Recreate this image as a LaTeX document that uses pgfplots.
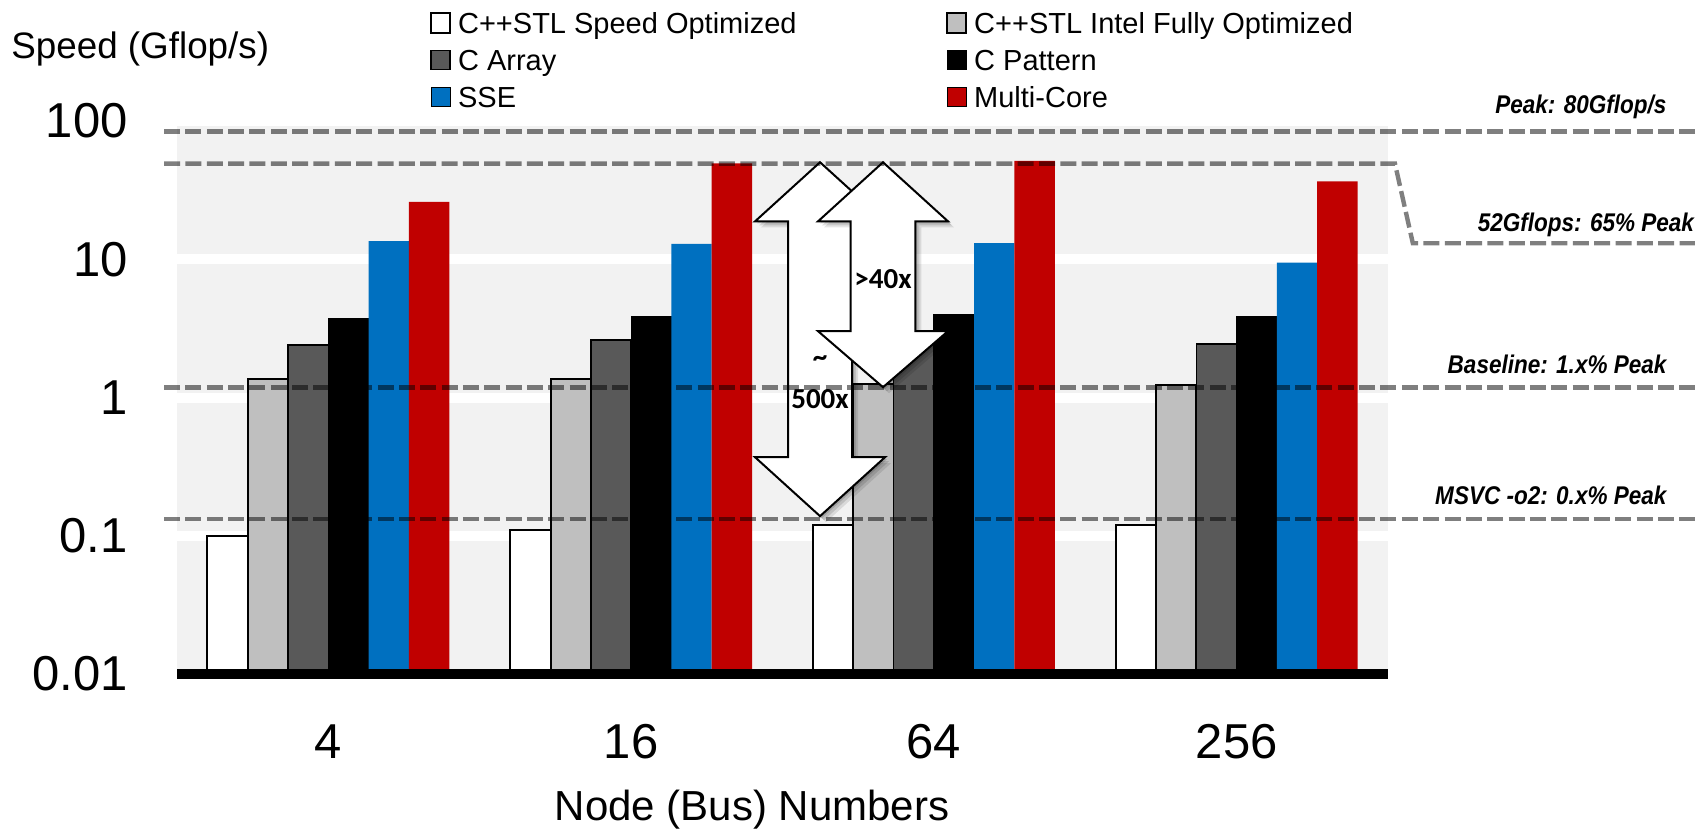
\documentclass[border=0pt]{standalone}
\usepackage{fontspec}
\setmainfont{Liberation Sans}
\newfontfamily\carlito{Carlito}
\newfontfamily\narrowsans[FakeStretch=0.88]{Liberation Sans}
\usepackage{pgfplots}
\pgfplotsset{compat=1.18}
\definecolor{bgG}{HTML}{F2F2F2}
\definecolor{lg}{HTML}{BFBFBF}
\definecolor{dg}{HTML}{595959}
\definecolor{sse}{HTML}{0070C0}
\definecolor{mc}{HTML}{C00000}
\tikzset{refline/.style={black, opacity=0.5, line width=2.2bp, dash pattern=on 8bp off 2.67bp},
  annot/.style={font=\narrowsans\bfseries\itshape\fontsize{12.8bp}{12.8bp}\selectfont, inner sep=0pt, anchor=east}}
\newcommand{\bigarrow}{(axis cs:1.624,50.3) -- (axis cs:1.8387,18.8) -- (axis cs:1.7297,18.8) -- (axis cs:1.7297,0.37)
  -- (axis cs:1.8387,0.37) -- (axis cs:1.624,0.1386) -- (axis cs:1.4093,0.37) -- (axis cs:1.5183,0.37)
  -- (axis cs:1.5183,18.8) -- (axis cs:1.4093,18.8) -- cycle}
\newcommand{\smallarrow}{(axis cs:1.832,50.3) -- (axis cs:2.0467,18.8) -- (axis cs:1.939,18.8) -- (axis cs:1.939,3.02)
  -- (axis cs:2.0467,3.02) -- (axis cs:1.832,1.187) -- (axis cs:1.6173,3.02) -- (axis cs:1.725,3.02)
  -- (axis cs:1.725,18.8) -- (axis cs:1.6173,18.8) -- cycle}
\begin{document}
\begin{tikzpicture}
\useasboundingbox (0,0) rectangle (847.5bp,416bp);
\begin{axis}[
  at={(88.5bp,79bp)}, anchor=south west,
  scale only axis, width=605.5bp, height=276.5bp,
  ymode=log, ymin=0.01, ymax=100, log origin y=infty,
  xmin=-0.5, xmax=3.5,
  xtick={0,1,2,3}, xticklabels={4,16,64,256},
  ytick={0.01,0.1,1,10,100}, yticklabels={{0.01},{0.1},{1},{10},{100}},
  /pgf/number format/assume math mode=true,
  ybar=0pt, bar width=20.15bp,
  axis line style={draw=none}, major tick length=0pt, minor tick length=0pt,
  axis background/.style={fill=bgG},
  ymajorgrids, major grid style={white, line width=5bp},
  clip=false,
  ticklabel style={font=\fontsize{24.5bp}{24.5bp}\selectfont},
  yticklabel style={anchor=east, inner sep=0pt, xshift=-24.5bp},
  xticklabel style={anchor=center, inner sep=0pt, yshift=-34bp},
  legend columns=2,
  legend cell align=left,
  legend image code/.code={\draw[#1] (0bp,0.65bp) rectangle (9.5bp,10.15bp);},
  legend style={
    at={(axis description cs:0.2090,1.19675)}, anchor=north west,
    draw=none, fill=none, inner sep=0pt, outer sep=0pt,
    font=\fontsize{14.5bp}{14.5bp}\selectfont,
    row sep=7.7bp,
    nodes={inner sep=0pt, outer sep=0pt, text height=10.8bp, text depth=0pt, anchor=base west},
    /tikz/every odd column/.style={column sep=3.5bp},
    /tikz/every even column/.style={column sep=74.8bp},
  },
]
\addplot[fill=white, draw=black, line width=1bp] coordinates {(0,0.100) (1,0.110) (2,0.119) (3,0.119)};
\addplot[fill=lg, draw=black, line width=1bp] coordinates {(0,1.36) (1,1.37) (2,1.25) (3,1.24)};
\addplot[fill=dg, draw=black, line width=0.8bp] coordinates {(0,2.40) (1,2.61) (2,2.50) (3,2.43)};
\addplot[fill=black, draw=black, line width=0.5bp] coordinates {(0,3.70) (1,3.83) (2,4.00) (3,3.83)};
\addplot[fill=sse, draw=none] coordinates {(0,13.5) (1,12.9) (2,13.1) (3,9.46)};
\addplot[fill=mc, draw=none] coordinates {(0,26.0) (1,49.4) (2,51.4) (3,36.6)};
\legend{C++STL Speed Optimized, C++STL Intel Fully Optimized, C Array, C Pattern, SSE, Multi-Core}

% baseline black axis line
\draw[black, line width=5bp] (axis cs:-0.5,0.01) -- (axis cs:3.5,0.01);

% big arrow (~500x) shadow + body
\fill[black, opacity=0.10, xshift=3bp, yshift=-3bp] \bigarrow;
\fill[black, opacity=0.12, xshift=2bp, yshift=-2bp] \bigarrow;
\fill[black, opacity=0.14, xshift=1bp, yshift=-1bp] \bigarrow;
\draw[black, line width=1bp, fill=white, line join=miter] \bigarrow;
% small arrow (>40x)
\fill[black, opacity=0.10, xshift=3bp, yshift=-3bp] \smallarrow;
\fill[black, opacity=0.12, xshift=2bp, yshift=-2bp] \smallarrow;
\fill[black, opacity=0.14, xshift=1bp, yshift=-1bp] \smallarrow;
\draw[black, line width=1bp, fill=white, line join=miter] \smallarrow;
\node[font=\carlito\bfseries\fontsize{14.5bp}{14.5bp}\selectfont, inner sep=0pt] at (axis cs:1.832,7.17) {>40x};
\node[font=\carlito\bfseries\fontsize{14.5bp}{14.5bp}\selectfont, inner sep=0pt] at (axis cs:1.624,1.84) {\textasciitilde};
\node[font=\carlito\bfseries\fontsize{14.5bp}{14.5bp}\selectfont, inner sep=0pt] at (axis cs:1.624,0.98) {500x};

% reference dashed lines
\draw[refline] (axis cs:-0.5426,84.2) -- (axis cs:4.514,84.2);
\draw[refline] (axis cs:-0.5426,49.2) -- (axis cs:3.523,49.2) -- (axis cs:3.582,13.06) -- (axis cs:4.514,13.06);
\draw[refline] (axis cs:-0.5426,1.18) -- (axis cs:4.514,1.18);
\draw[refline] (axis cs:-0.5426,0.132) -- (axis cs:4.514,0.132);

% annotation labels
\node[annot] at (axis cs:4.421,125.6) {Peak: 80Gflop/s};
\node[annot] at (axis cs:4.512,17.6) {52Gflops: 65\% Peak};
\node[annot] at (axis cs:4.421,1.741) {Baseline: 1.x\% Peak};
\node[annot] at (axis cs:4.421,0.1966) {MSVC -o2: 0.x\% Peak};
\end{axis}
\node[anchor=base west, inner sep=0pt, font=\fontsize{18.4bp}{18.4bp}\selectfont] at (5.5bp,386.5bp) {Speed (Gflop/s)};
\node[anchor=center, inner sep=0pt, font=\fontsize{21bp}{21bp}\selectfont] at (376bp,11bp) {Node (Bus) Numbers};
\end{tikzpicture}
\end{document}
